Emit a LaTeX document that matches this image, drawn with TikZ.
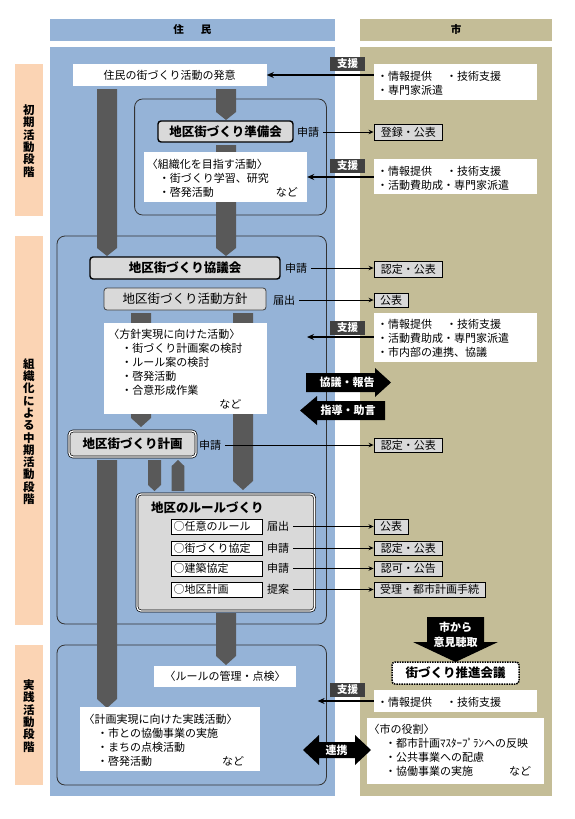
\documentclass[tikz,border=0pt]{standalone}
\usepackage{fontspec}
\setmainfont{Noto Sans CJK JP}
\usetikzlibrary{arrows.meta,fit}
\definecolor{blueC}{HTML}{95B3D7}
\definecolor{tanC}{HTML}{C4BD97}
\definecolor{peachC}{HTML}{FBD4B4}
\definecolor{barC}{HTML}{595959}
\definecolor{boxC}{HTML}{D9D9D9}
\definecolor{darkC}{HTML}{404040}
\newcommand\mydnbar[5]{\fill[barC] (#1,#3) -- (#2,#3) -- (#2,{#4-#5}) -- ({(#1+#2)/2},#4) -- (#1,{#4-#5}) -- cycle;}
\newcommand\myupbar[5]{\fill[barC] (#1,#4) -- (#2,#4) -- (#2,{#3+#5}) -- ({(#1+#2)/2},#3) -- (#1,{#3+#5}) -- cycle;}
% box with text: style, name, x1, y1, x2, y2, text
\newcommand\mkbx[7]{\node[#1, minimum width={#5-#3}, minimum height={#6-#4}] (#2) at ({(#3+#5)/2},{(#4+#6)/2}) {#7};}
\tikzset{
 c10/.style={text height=9.2pt, text depth=1.3pt},
 c11/.style={text height=9.7pt, text depth=1.3pt},
 c12/.style={text height=11pt, text depth=1.5pt},
 colbg/.style={inner sep=0, draw=none},
 stagebox/.style={draw=black!80, line width=0.8pt, rounded corners=8pt},
 wbox/.style={fill=white, inner sep=0, draw=none},
 gbox/.style={fill=boxC, draw=black, line width=1.4pt, rounded corners=3pt, inner sep=0, font=\fontsize{12.5}{14}\selectfont\bfseries, c12},
 hbox/.style={fill=boxC, draw=black!75, line width=0.8pt, rounded corners=3pt, inner sep=0, font=\fontsize{12.5}{14}\selectfont, c12},
 dbox/.style={fill=boxC, draw=black, line width=0.7pt, double=white, double distance=1.3pt, rounded corners=4pt, inner sep=0},
 rbox/.style={fill=boxC, draw=black, line width=0.9pt, inner sep=0, font=\fontsize{11}{13}\selectfont, c11},
 rulebox/.style={fill=white, draw=black, line width=0.9pt, inner sep=0},
 lbl/.style={inner sep=4pt, font=\fontsize{11}{13}\selectfont, c11},
 tagbox/.style={fill=darkC, text=white, inner sep=0, font=\fontsize{10.5}{12}\selectfont\bfseries, c10},
 hdr/.style={inner sep=0, draw=none, font=\fontsize{10.5}{12}\selectfont\bfseries, c10},
 conn/.style={line width=1pt, -{Stealth[length=5pt,width=4.5pt]}},
 suparr/.style={line width=1.8pt, -{Stealth[length=7pt,width=6pt]}},
 mtxt/.style={inner sep=0, anchor=north west, align=left, font=\fontsize{11}{14}\selectfont},
 ctxt/.style={inner sep=0, font=\fontsize{11}{14}\selectfont, c11},
 btxt/.style={inner sep=0, text=white, font=\fontsize{11}{15}\selectfont\bfseries, align=center},
 stxt/.style={inner sep=0, align=center, font=\fontsize{11.5}{12.3}\selectfont\bfseries},
}
\begin{document}
\begin{tikzpicture}[x=1pt,y=-1pt]
\useasboundingbox (0,0) rectangle (575,819);
\fill[white] (0,0) rectangle (575,819);
% headers and columns
\mkbx{hdr, fill=blueC}{hdrA}{49.5}{19}{335}{41}{住\hspace{17pt}民}
\mkbx{hdr, fill=tanC}{hdrB}{360}{19}{552}{41}{市}
\fill[blueC] (49.5,47) rectangle (335,796);
\fill[tanC] (360,47) rectangle (552,796);
% stage labels
\node[colbg, fill=peachC, fit={(14.7,64)(43,216)}] (pc1) {};
\node[colbg, fill=peachC, fit={(14.7,236)(43,625)}] (pc2) {};
\node[colbg, fill=peachC, fit={(14.7,645)(43,785)}] (pc3) {};
\node[stxt] (pt1) at (29,141) {初\\期\\活\\動\\段\\階};
\node[stxt] (pt2) at (29,431.5) {組\\織\\化\\に\\よ\\る\\中\\期\\活\\動\\段\\階};
\node[stxt] (pt3) at (29,716) {実\\践\\活\\動\\段\\階};
% stage boxes
\draw[stagebox] (134.6,99) rectangle (326.4,215);
\draw[stagebox] (57,236) rectangle (326.4,624);
\draw[stagebox] (57,645) rectangle (326.4,785);
% gray flow bars
\mydnbar{97}{117}{89}{256}{8}
\mydnbar{216}{236}{89}{120}{8}
\mydnbar{216}{236}{145}{256}{8}
\mydnbar{131}{151}{313}{427}{9}
\mydnbar{233}{253}{313}{490}{9}
\mydnbar{97}{117}{460}{708}{9}
\mydnbar{148}{161}{460}{491}{6}
\myupbar{171.7}{184.3}{460}{491}{6}
\mydnbar{216}{236}{613}{665}{9}
% top
\mkbx{wbox, font=\fontsize{11}{13}\selectfont, c11}{hatsui}{72.6}{64}{266.6}{86}{住民の街づくり活動の発意}
\node[wbox, fit={(374,64)(536.5,100)}] (s1) {};
\node[mtxt] (s1t) at (377,71) {・情報提供\hspace{14pt}・技術支援\\・専門家派遣};
\mkbx{tagbox}{tag1}{330}{57}{365}{71}{支援}
% stage 1
\mkbx{gbox}{junbi}{158}{121}{293}{142}{地区街づくり準備会}
\node[lbl] (ap1) at (308,132) {申請};
\mkbx{rbox}{rb1}{374}{124}{442.6}{140}{登録・公表}
\node[wbox, fit={(144,152)(307,202)}] (soshiki) {};
\node[mtxt] (soshikit) at (146.7,158.7) {〈組織化を目指す活動〉\\\hspace*{12pt}・街づくり学習、研究\\\hspace*{12pt}・啓発活動\hspace{62pt}など};
\mkbx{tagbox}{tag2}{330}{159}{365}{173}{支援}
\node[wbox, fit={(374,159)(536.5,194)}] (s2) {};
\node[mtxt] (s2t) at (377,166) {・情報提供\hspace{14pt}・技術支援\\・活動費助成・専門家派遣};
% stage 2
\mkbx{gbox}{kyogi}{90}{257}{280}{279}{地区街づくり協議会}
\node[lbl] (ap2) at (296,268) {申請};
\mkbx{rbox}{rb2}{374}{261}{442.6}{277}{認定・公表}
\mkbx{hbox}{hoshin}{104}{288}{266}{310}{地区街づくり活動方針}
\node[lbl] (ap3) at (284,300) {届出};
\mkbx{rbox}{rb3}{374}{293}{408}{307}{公表}
\node[wbox, fit={(104,323)(266.6,414)}] (jitsugen) {};
\node[mtxt] (jitsugent) at (108.2,329) {〈方針実現に向けた活動〉\\\hspace*{13pt}・街づくり計画案の検討\\\hspace*{13pt}・ルール案の検討\\\hspace*{13pt}・啓発活動\\\hspace*{13pt}・合意形成作業\\\hspace*{111pt}など};
\mkbx{tagbox}{tag3}{330}{321}{365}{335}{支援}
\node[wbox, fit={(374,313)(536.5,362)}] (s3) {};
\node[mtxt] (s3t) at (377,318.7) {・情報提供\hspace{14pt}・技術支援\\・活動費助成・専門家派遣\\・市内部の連携、協議};
\coordinate (s3tip) at (307,337);
% black block arrows
\fill[black] (306,373) -- (375,373) -- (375,368) -- (391,382.5) -- (375,397) -- (375,392) -- (306,392) -- cycle;
\node[btxt, c11] (kyogit) at (347,382.5) {協議・報告};
\fill[black] (385,401) -- (317,401) -- (317,396) -- (300,410.5) -- (317,425) -- (317,420) -- (385,420) -- cycle;
\node[btxt, c11] (shidot) at (348,410.5) {指導・助言};
% plan
\mkbx{dbox, font=\fontsize{12.5}{14}\selectfont\bfseries, c12}{keikaku}{69}{431}{196}{457}{地区街づくり計画}
\node[lbl] (ap4) at (210,445) {申請};
\mkbx{rbox}{rb4}{374}{438}{442.6}{452}{認定・公表}
% rules
\node[dbox, fit={(137,494)(314.6,611)}] (rule) {};
\node[inner sep=0, anchor=west, font=\fontsize{12.5}{14}\selectfont\bfseries, c12] (ruletitle) at (151,508) {地区のルールづくり};
\node[rulebox, fit={(171,519)(262.6,534)}] (r1) {};
\node[rulebox, fit={(171,541)(262.6,555)}] (r2) {};
\node[rulebox, fit={(171,561)(262.6,576)}] (r3) {};
\node[rulebox, fit={(171,582)(262.6,597)}] (r4) {};
\node[ctxt, anchor=west] (r1t) at (173.5,526.5) {○任意のルール};
\node[ctxt, anchor=west] (r2t) at (173.5,548) {○街づくり協定};
\node[ctxt, anchor=west] (r3t) at (173.5,568.5) {○建築協定};
\node[ctxt, anchor=west] (r4t) at (173.5,589.5) {○地区計画};
\node[lbl] (ap5) at (278,526.5) {届出};
\node[lbl] (ap6) at (278,548) {申請};
\node[lbl] (ap7) at (278,568.5) {申請};
\node[lbl] (ap8) at (278,589.5) {提案};
\mkbx{rbox}{rb5}{374}{519}{408}{534}{公表}
\mkbx{rbox}{rb6}{374}{541}{442.6}{555}{認定・公表}
\mkbx{rbox}{rb7}{374}{561}{442.6}{576}{認可・公告}
\mkbx{rbox}{rb8}{374}{582}{485}{597}{受理・都市計画手続}
% stage 3
\mkbx{wbox, font=\fontsize{11}{13}\selectfont, c11}{kanri}{154}{666}{296}{687}{〈ルールの管理・点検〉}
\node[wbox, fit={(80,707)(259.6,771)}] (jissen) {};
\node[mtxt] (jissent) at (83.5,713.7) {〈計画実現に向けた実践活動〉\\\hspace*{13.5pt}・市との協働事業の実施\\\hspace*{13.5pt}・まちの点検活動\\\hspace*{13.5pt}・啓発活動\hspace{70pt}など};
\fill[black] (427,617) -- (484,617) -- (484,642) -- (498,642) -- (455.5,662) -- (413,642) -- (427,642) -- cycle;
\node[btxt] (ikent) at (455.5,635) {市から\\意見聴取};
\mkbx{fill=white, draw=black, line width=1.5pt, dash pattern=on 1.5pt off 1pt, rounded corners=3pt, inner sep=0, font=\fontsize{12.5}{14}\selectfont\bfseries, c12}{suishin}{392}{662}{519}{684}{街づくり推進会議}
\mkbx{tagbox}{tag4}{330}{683}{365}{697}{支援}
\node[wbox, fit={(374,690)(536.5,712)}] (s4) {};
\node[mtxt] (s4t) at (377,696.7) {・情報提供\hspace{14pt}・技術支援};
\coordinate (s4tip) at (317.6,701);
\node[wbox, fit={(366.7,718)(543.5,784)}] (yakuwari) {};
\node[mtxt] (yakuwarit) at (368.5,724.3) {〈市の役割〉\\\hspace*{16.5pt}・都市計画ﾏｽﾀｰﾌﾟﾗﾝへの反映\\\hspace*{16.5pt}・公共事業への配慮\\\hspace*{16.5pt}・協働事業の実施\hspace{36pt}など};
\fill[black] (303,750) -- (319,735) -- (319,742) -- (355,742) -- (355,735) -- (371,750) -- (355,765) -- (355,758) -- (319,758) -- (319,765) -- cycle;
\node[btxt, c11] (renkeit) at (336.7,750) {連携};
% connectors
\draw[suparr] (hatsui.east -| s1.west) -- (hatsui.east);
\draw[suparr] (soshiki.east -| s2.west) -- (soshiki.east);
\draw[suparr] (s3tip -| s3.west) -- (s3tip);
\draw[suparr] (s4tip -| s4.west) -- (s4tip);
\draw[conn] (ap1.east) -- (ap1.east -| rb1.west);
\draw[conn] (ap2.east) -- (ap2.east -| rb2.west);
\draw[conn] (ap3.east) -- (ap3.east -| rb3.west);
\draw[conn] (ap4.east) -- (ap4.east -| rb4.west);
\draw[conn] (ap5.east) -- (ap5.east -| rb5.west);
\draw[conn] (ap6.east) -- (ap6.east -| rb6.west);
\draw[conn] (ap7.east) -- (ap7.east -| rb7.west);
\draw[conn] (ap8.east) -- (ap8.east -| rb8.west);
\end{tikzpicture}
\end{document}
